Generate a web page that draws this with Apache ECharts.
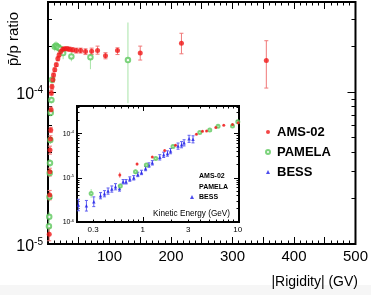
<!DOCTYPE html>
<html><head><meta charset="utf-8">
<script src="https://cdn.jsdelivr.net/npm/echarts@6/dist/echarts.min.js"></script>
<style>html,body{margin:0;padding:0;background:#fff}#c{width:371px;height:295px}</style>
</head><body><div id="c"></div>
<script>
// ---- Main plot data: |Rigidity| (GV) vs pbar/p ratio ----
const amsRig   = [2.0, 2.8, 3.0, 3.3, 4.0, 4.5, 5.0, 5.5, 6.5, 8, 9, 11, 13.5, 16, 18, 21, 24, 27, 31, 35, 40, 46, 53, 61, 71, 80.6, 93.5, 113, 150, 217, 355];
const amsRatio = [1.16e-5, 2.10e-5, 2.98e-5, 4.15e-5, 4.91e-5, 5.62e-5, 7.62e-5, 9.84e-5, 1.08e-4, 1.20e-4, 1.29e-4, 1.40e-4, 1.51e-4, 1.65e-4, 1.75e-4, 1.84e-4, 1.91e-4, 1.92e-4, 1.92e-4, 1.91e-4, 1.89e-4, 1.87e-4, 1.87e-4, 1.84e-4, 1.85e-4, 1.87e-4, 1.73e-4, 1.87e-4, 1.80e-4, 2.09e-4, 1.61e-4];
const amsLo    = [1.05e-5, 1.95e-5, 2.8e-5, 3.9e-5, 4.7e-5, 5.4e-5, 7.3e-5, 9.5e-5, 1.04e-4, 1.16e-4, 1.25e-4, 1.36e-4, 1.47e-4, 1.60e-4, 1.70e-4, 1.79e-4, 1.86e-4, 1.87e-4, 1.86e-4, 1.85e-4, 1.83e-4, 1.80e-4, 1.80e-4, 1.76e-4, 1.76e-4, 1.77e-4, 1.65e-4, 1.76e-4, 1.62e-4, 1.78e-4, 1.06e-4];
const amsHi    = [1.28e-5, 2.25e-5, 3.15e-5, 4.4e-5, 5.15e-5, 5.85e-5, 7.95e-5, 1.02e-4, 1.12e-4, 1.24e-4, 1.33e-4, 1.44e-4, 1.55e-4, 1.70e-4, 1.80e-4, 1.89e-4, 1.96e-4, 1.97e-4, 1.98e-4, 1.97e-4, 1.95e-4, 1.94e-4, 1.94e-4, 1.92e-4, 1.94e-4, 2.00e-4, 1.81e-4, 1.95e-4, 2.00e-4, 2.43e-4, 2.17e-4];

const pamRig   = [1.5, 2.0, 2.4, 2.8, 3.2, 3.8, 4.5, 5.5, 6.5, 11, 13, 15, 17, 20, 24.6, 38, 69, 130];
const pamRatio = [1.31e-5, 1.51e-5, 2.04e-5, 2.93e-5, 3.41e-5, 4.83e-5, 7.28e-5, 8.85e-5, 1.20e-4, 1.98e-4, 2.01e-4, 1.98e-4, 1.95e-4, 1.92e-4, 1.80e-4, 1.71e-4, 1.69e-4, 1.62e-4];
const pamLo    = [1.2e-5, 1.4e-5, 1.9e-5, 2.75e-5, 3.2e-5, 4.55e-5, 6.9e-5, 8.4e-5, 1.13e-4, 1.85e-4, 1.88e-4, 1.85e-4, 1.82e-4, 1.78e-4, 1.64e-4, 1.59e-4, 1.41e-4, 8.43e-5];
const pamHi    = [1.43e-5, 1.63e-5, 2.2e-5, 3.12e-5, 3.62e-5, 5.1e-5, 7.7e-5, 9.3e-5, 1.27e-4, 2.12e-4, 2.15e-4, 2.12e-4, 2.09e-4, 2.06e-4, 1.95e-4, 1.87e-4, 1.80e-4, 2.86e-4];

// ---- Inset data: Kinetic Energy (GeV) vs ratio ----
const bessE      = [0.21, 0.255, 0.305, 0.359, 0.395, 0.431, 0.472, 0.516, 0.569, 0.621, 0.667, 0.730, 0.804, 0.886, 0.969, 1.07, 1.16, 1.26, 1.51, 1.66, 1.82, 1.96, 2.35, 2.56, 2.72, 3.07, 3.38];
const bessRatio  = [2.42e-6, 2.33e-6, 2.87e-6, 3.93e-6, 4.36e-6, 5.0e-6, 5.56e-6, 6.27e-6, 5.73e-6, 8.13e-6, 8.13e-6, 9.35e-6, 1.0e-5, 1.19e-5, 1.32e-5, 1.62e-5, 1.94e-5, 2.18e-5, 2.9e-5, 3.3e-5, 3.54e-5, 4.01e-5, 5.2e-5, 5.6e-5, 6.17e-5, 7.6e-5, 7.4e-5];
const bessErrDex = [0.13, 0.12, 0.11, 0.07, 0.07, 0.07, 0.07, 0.07, 0.06, 0.05, 0.05, 0.05, 0.05, 0.05, 0.05, 0.05, 0.05, 0.05, 0.06, 0.06, 0.06, 0.06, 0.07, 0.07, 0.07, 0.08, 0.08];

const amsE       = [0.573, 0.871, 1.26, 1.70, 2.21, 3.67, 4.25, 4.69, 5.87, 7.12, 8.8, 10.1];
const amsIns     = [1.15e-5, 2.04e-5, 2.95e-5, 4.13e-5, 5.47e-5, 9.7e-5, 1.13e-4, 1.15e-4, 1.37e-4, 1.55e-4, 1.60e-4, 1.76e-4];
const amsInsErr  = [0.06, 0.03, 0.02, 0.02, 0.02, 0.02, 0.02, 0.02, 0.02, 0.02, 0.02, 0.02];

const pamE       = [0.286, 0.58, 0.838, 1.09, 1.37, 2.08, 3.98, 5.07, 6.2, 8.8, 10.0];
const pamIns     = [4.42e-6, 6.5e-6, 1.36e-5, 1.94e-5, 2.73e-5, 5.09e-5, 1.05e-4, 1.21e-4, 1.47e-4, 1.49e-4, 1.84e-4];
const pamInsErr  = [0.1, 0.06, 0.05, 0.04, 0.03, 0.03, 0.02, 0.02, 0.02, 0.02, 0.02];

// ---- Tick labels ----
const mainXLabels  = [100, 200, 300, 400, 500];
const mainYLabels  = [-5, -4];          // decades 10^-5, 10^-4
const insetYLabels = [-6, -5, -4];
const insetXLabels = [0.3, 1, 3, 10];

// ---------------------------------------------------------------
const L = Math.log10;
const FONT = "'Liberation Sans',Arial,sans-serif";
const RED = '#f01818', RED_E = '#f07878';
const GRN = '#5cc85c', GRN_E = '#a8e4a8';
const BLU = '#2020e8', BLU_E = '#6060f0';

const MY = [-5, L(3.9e-4)];          // main y range (log10)
const IX = [L(0.203), L(10.3)];      // inset x range (log10 E)
const IY = [-6, L(4.2e-4)];          // inset y range

function minorLogs(lo, hi) {
  const out = [];
  for (let n = Math.floor(lo); n <= Math.ceil(hi); n++)
    for (let k = 2; k <= 9; k++) { const v = n + L(k); if (v >= lo - 1e-9 && v <= hi + 1e-9) out.push(v); }
  return out;
}
function majorLogs(lo, hi) {
  const out = [];
  for (let n = Math.ceil(lo); n <= Math.floor(hi); n++) out.push(n);
  return out;
}

function errSeries(name, xi, yi, data, color, cap, z) {
  return {
    type: 'custom', name: name + '_err', xAxisIndex: xi, yAxisIndex: yi, z: z, silent: true,
    encode: { x: 0, y: [1, 2] }, data: data,
    renderItem: function (params, api) {
      const x = api.value(0);
      const a = api.coord([x, api.value(1)]), b = api.coord([x, api.value(2)]);
      const ch = [{ type: 'line', shape: { x1: a[0], y1: a[1], x2: b[0], y2: b[1] }, style: { stroke: color, lineWidth: 1 } }];
      if (cap) {
        ch.push({ type: 'line', shape: { x1: a[0] - cap, y1: a[1], x2: a[0] + cap, y2: a[1] }, style: { stroke: color, lineWidth: 1 } });
        ch.push({ type: 'line', shape: { x1: b[0] - cap, y1: b[1], x2: b[0] + cap, y2: b[1] }, style: { stroke: color, lineWidth: 1 } });
      }
      return { type: 'group', children: ch };
    }
  };
}

const supFmt = v => '{b|10}{s|' + Math.round(v) + '}';

function yAx(grid, pos, range, ticks, len, labels, labelSize, z) {
  return {
    type: 'value', gridIndex: grid, position: pos, min: range[0], max: range[1], z: z,
    axisLine: { show: false, onZero: false }, splitLine: { show: false },
    axisTick: { show: true, inside: true, length: len, customValues: ticks, lineStyle: { color: '#000', width: 1 } },
    axisLabel: labels ? {
      show: true, customValues: labels, formatter: supFmt, margin: grid === 0 ? 5 : 3,
      padding: grid === 0 ? [5, 0, 0, 0] : [1, 0, 0, 0],
      rich: {
        b: { fontSize: labelSize, fontFamily: FONT, color: '#000' },
        s: { fontSize: Math.round(labelSize * 0.62), fontFamily: FONT, color: '#000', padding: [0, 0, Math.round(labelSize * 0.55), 0] }
      }
    } : { show: false }
  };
}
function xInsAx(pos, ticks, len, labels) {
  return {
    type: 'value', gridIndex: 1, position: pos, min: IX[0], max: IX[1], z: 6,
    axisLine: { show: false, onZero: false }, splitLine: { show: false },
    axisTick: { show: true, inside: true, length: len, customValues: ticks, lineStyle: { color: '#000', width: 1 } },
    axisLabel: labels ? {
      show: true, customValues: labels.map(L), margin: 4, fontSize: 8, fontFamily: FONT, color: '#000',
      formatter: v => { const e = Math.pow(10, v); return e < 0.95 ? e.toFixed(1) : String(Math.round(e)); }
    } : { show: false }
  };
}

const insetXMajor = [0, 1];
const insetXMinor = minorLogs(IX[0], IX[1]).filter(v => Math.abs(v) > 1e-6 && Math.abs(v - 1) > 1e-6);

const option = {
  animation: false,
  backgroundColor: '#fff',
  grid: [
    { left: 48, top: 2, width: 309, height: 242, show: true, borderColor: '#000', borderWidth: 2, backgroundColor: 'transparent', z: 0 },
    { left: 77, top: 106, width: 162, height: 116, show: true, borderColor: '#000', borderWidth: 2, backgroundColor: '#fff', z: 5 }
  ],
  xAxis: [
    { type: 'value', gridIndex: 0, position: 'bottom', min: 0, max: 500, interval: 50,
      axisLine: { show: false, onZero: false }, splitLine: { show: false },
      axisTick: { inside: true, length: 7, lineStyle: { color: '#000' } },
      minorTick: { show: true, splitNumber: 5, length: 3.5, lineStyle: { color: '#000' } },
      axisLabel: { margin: 5, fontSize: 15, fontFamily: FONT, color: '#000',
        formatter: v => (mainXLabels.indexOf(v) >= 0 ? String(v) : '') } },
    { type: 'value', gridIndex: 0, position: 'top', min: 0, max: 500, interval: 50,
      axisLine: { show: false, onZero: false }, splitLine: { show: false },
      axisTick: { inside: true, length: 7, lineStyle: { color: '#000' } },
      minorTick: { show: true, splitNumber: 5, length: 3.5, lineStyle: { color: '#000' } },
      axisLabel: { show: false } },
    xInsAx('bottom', insetXMajor, 5, insetXLabels),
    xInsAx('bottom', insetXMinor, 2.5, null),
    xInsAx('top', insetXMajor, 5, null),
    xInsAx('top', insetXMinor, 2.5, null)
  ],
  yAxis: [
    yAx(0, 'left', MY, majorLogs(MY[0], MY[1]), 8, mainYLabels, 16, 0),
    yAx(0, 'left', MY, minorLogs(MY[0], MY[1]), 4, null, 0, 0),
    yAx(0, 'right', MY, majorLogs(MY[0], MY[1]), 8, null, 0, 0),
    yAx(0, 'right', MY, minorLogs(MY[0], MY[1]), 4, null, 0, 0),
    yAx(1, 'left', IY, majorLogs(IY[0], IY[1]), 5, insetYLabels, 7, 6),
    yAx(1, 'left', IY, minorLogs(IY[0], IY[1]), 2.5, null, 0, 6),
    yAx(1, 'right', IY, majorLogs(IY[0], IY[1]), 5, null, 0, 6),
    yAx(1, 'right', IY, minorLogs(IY[0], IY[1]), 2.5, null, 0, 6)
  ],
  legend: [
    { orient: 'vertical', left: 260, top: 120, itemWidth: 4, itemHeight: 4, itemGap: 6, z: 8,
      data: ['AMS-02', 'PAMELA', 'BESS'],
      textStyle: { fontSize: 13, fontWeight: 'bold', fontFamily: FONT, color: '#000', lineHeight: 14, padding: [0, 0, 0, 2] } },
    { orient: 'vertical', left: 184, top: 168, itemWidth: 4, itemHeight: 4, itemGap: 3.3, z: 9,
      data: [{ name: 'AMS-02', itemStyle: { opacity: 0 } }, { name: 'PAMELA', itemStyle: { opacity: 0 } }, { name: 'BESS' }],
      textStyle: { fontSize: 7, fontWeight: 'bold', fontFamily: FONT, color: '#000', lineHeight: 7 } }
  ],
  graphic: [
    { type: 'rect', left: 0, top: 285, shape: { width: 371, height: 10 }, style: { fill: '#f6f6f6' }, z: -1, silent: true },
    { type: 'text', x: 14, y: 39, rotation: Math.PI / 2, z: 10, silent: true,
      style: { text: 'p\u0304/p ratio', fontSize: 15, fontFamily: FONT, fill: '#000', align: 'center', verticalAlign: 'middle' } },
    { type: 'text', x: 358, y: 282, z: 10, silent: true,
      style: { text: '|Rigidity| (GV)', fontSize: 14, fontFamily: FONT, fill: '#000', align: 'right', verticalAlign: 'middle' } },
    { type: 'text', x: 230, y: 214, z: 10, silent: true,
      style: { text: 'Kinetic Energy (GeV)', fontSize: 8.2, fontFamily: FONT, fill: '#000', align: 'right', verticalAlign: 'middle' } }
  ],
  series: [
    errSeries('PAMELA', 0, 0, pamRig.map((x, i) => [x, L(pamLo[i]), L(pamHi[i])]), GRN_E, 0, 1),
    errSeries('AMS-02', 0, 0, amsRig.map((x, i) => [x, L(amsLo[i]), L(amsHi[i])]), RED_E, 2, 1),
    { type: 'scatter', name: 'AMS-02', xAxisIndex: 0, yAxisIndex: 0, z: 3, symbol: 'circle', symbolSize: 5,
      itemStyle: { color: RED }, data: amsRig.map((x, i) => [x, L(amsRatio[i])]) },
    { type: 'scatter', name: 'PAMELA', xAxisIndex: 0, yAxisIndex: 0, z: 2, symbol: 'emptyCircle', symbolSize: 4.5,
      itemStyle: { color: GRN, borderColor: GRN, borderWidth: 1 }, data: pamRig.map((x, i) => [x, L(pamRatio[i])]) },
    // inset
    errSeries('BESS', 2, 4, bessE.map((x, i) => [L(x), L(bessRatio[i]) - bessErrDex[i], L(bessRatio[i]) + bessErrDex[i]]), BLU_E, 1.5, 7),
    errSeries('PAMELA', 2, 4, pamE.map((x, i) => [L(x), L(pamIns[i]) - pamInsErr[i], L(pamIns[i]) + pamInsErr[i]]), GRN_E, 0, 7),
    errSeries('AMS-02', 2, 4, amsE.map((x, i) => [L(x), L(amsIns[i]) - amsInsErr[i], L(amsIns[i]) + amsInsErr[i]]), RED_E, 0, 7),
    { type: 'scatter', name: 'BESS', xAxisIndex: 2, yAxisIndex: 4, z: 8, symbol: 'triangle', symbolSize: 3.5,
      itemStyle: { color: BLU }, data: bessE.map((x, i) => [L(x), L(bessRatio[i])]) },
    { type: 'scatter', name: 'PAMELA', xAxisIndex: 2, yAxisIndex: 4, z: 8, symbol: 'emptyCircle', symbolSize: 3,
      itemStyle: { color: GRN, borderColor: GRN, borderWidth: 1 }, data: pamE.map((x, i) => [L(x), L(pamIns[i])]) },
    { type: 'scatter', name: 'AMS-02', xAxisIndex: 2, yAxisIndex: 4, z: 8, symbol: 'circle', symbolSize: 3,
      itemStyle: { color: RED }, data: amsE.map((x, i) => [L(x), L(amsIns[i])]) }
  ]
};
echarts.init(document.getElementById('c'), null, { renderer: 'canvas' }).setOption(option);
</script>
</body></html>
